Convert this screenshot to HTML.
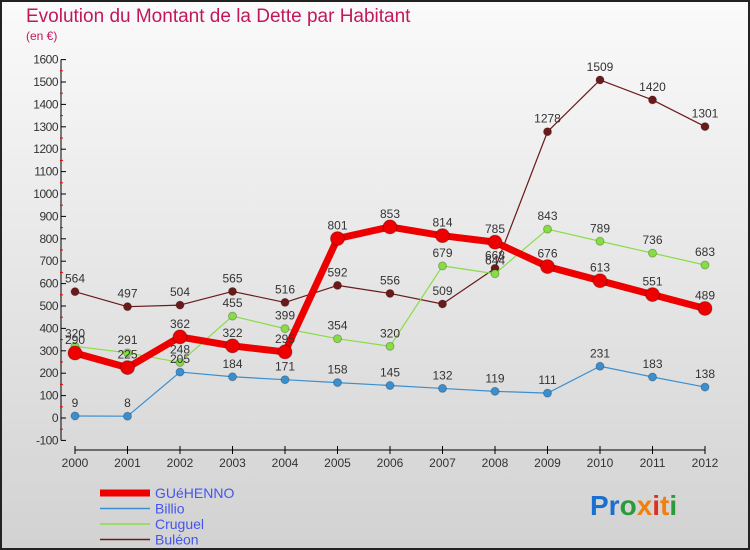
<!DOCTYPE html>
<html><head><meta charset="utf-8"><style>
body{margin:0}
#c{width:750px;height:550px;position:relative;box-sizing:border-box;border:2px solid #222;background:linear-gradient(#fafafa,#d2d2d2);font-family:"Liberation Sans",sans-serif;overflow:hidden}
svg{position:absolute;left:-2px;top:-2px}
</style></head><body>
<div id="c">
<svg id="s" width="750" height="550">
<text x="26" y="22" font-size="19" fill="#c2185b">Evolution du Montant de la Dette par Habitant</text>
<text x="26" y="40" font-size="12" fill="#c2185b">(en €)</text>
<text x="590" y="515" font-size="28" font-weight="bold"><tspan fill="#1a6fcf">Pr</tspan><tspan fill="#2a9a3a">o</tspan><tspan fill="#f08010">x</tspan><tspan fill="#e03020">i</tspan><tspan fill="#f08010">t</tspan><tspan fill="#2a9a3a">i</tspan></text>
</svg>
</div>
<script>
const years=[2000,2001,2002,2003,2004,2005,2006,2007,2008,2009,2010,2011,2012];
const yTicks=[-100,0,100,200,300,400,500,600,700,800,900,1000,1100,1200,1300,1400,1500,1600];
const seriesNames=["GUéHENNO","Billio","Cruguel","Buléon"];
const guehenno=[290,225,362,322,295,801,853,814,785,676,613,551,489];
const billio=[9,8,205,184,171,158,145,132,119,111,231,183,138];
const cruguel=[320,291,248,455,399,354,320,679,644,843,789,736,683];
const buleon=[564,497,504,565,516,592,556,509,668,1278,1509,1420,1301];
const s=document.getElementById('s');const NS="http://www.w3.org/2000/svg";
function X(i){return 75+i*(630/(years.length-1));}
function Y(v){return 418-v*0.224;}
function mk(t,a,p){const e=document.createElementNS(NS,t);for(const k in a)e.setAttribute(k,a[k]);(p||s).appendChild(e);return e;}
let ax=mk('line',{x1:61,y1:Y(1600),x2:61,y2:Y(-100),stroke:'#000'});


yTicks.forEach(v=>{
 mk('line',{x1:61,y1:Y(v),x2:66,y2:Y(v),stroke:'#000'});
 if(v<1600)mk('line',{x1:60,y1:Y(v+50),x2:63,y2:Y(v+50),stroke:'#e00'});
 const t=mk('text',{x:58,y:Y(v)+4,'text-anchor':'end','font-size':12,fill:'#333','letter-spacing':'-0.5'});
 t.textContent=v;
 
 
});
let xa=mk('line',{x1:75,y1:450,x2:705,y2:450,stroke:'#000'});


years.forEach((y,i)=>{
 mk('line',{x1:X(i),y1:446,x2:X(i),y2:454,stroke:'#000'});
 const t=mk('text',{x:X(i),y:467,'text-anchor':'middle','font-size':12,fill:'#333'});
 t.textContent=y;
 
 
});
function draw(data,color,w,r,name){
 const g=mk('g',{});
 
 
 mk('polyline',{points:data.map((v,i)=>X(i)+','+Y(v)).join(' '),fill:'none',stroke:color,'stroke-width':w,'stroke-linejoin':'round'},g);
 data.forEach((v,i)=>{
  const c=mk('circle',{cx:X(i),cy:Y(v),r:r,fill:color,stroke:'rgba(0,0,0,0.25)'},g);
  
  
  const t=mk('text',{x:X(i),y:Y(v)-9,'text-anchor':'middle','font-size':12,fill:'#333'},g);
  t.textContent=v;
  
  
 });
}
draw(buleon,'#6b1a1a',1.2,4,'buleon');
draw(cruguel,'#88dd44',1.2,4,'cruguel');
draw(billio,'#3a8fd0',1.2,4,'billio');
draw(guehenno,'#ee0000',7,7,'guehenno');
const lc=['#ee0000','#3a8fd0','#88dd44','#6b1a1a'],lw=[7,1.5,1.5,1.5];
seriesNames.forEach((n,i)=>{
 const y=493+i*15.5;
 const g=mk('g',{});
 
 
 mk('line',{x1:100,y1:y,x2:150,y2:y,stroke:lc[i],'stroke-width':lw[i]},g);
 const t=mk('text',{x:155,y:y+5,'font-size':14,fill:'#4455ee'},g);
 t.textContent=n;
});
</script>
</body></html>
